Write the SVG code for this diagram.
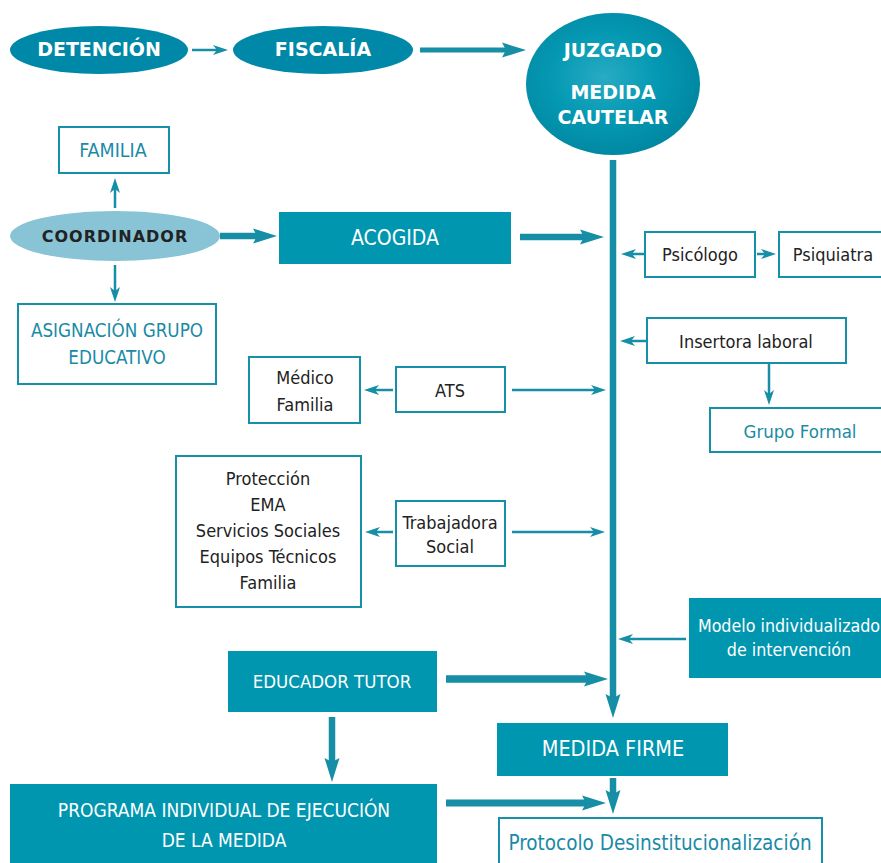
<svg xmlns="http://www.w3.org/2000/svg" width="881" height="863" viewBox="0 0 881 863">
<defs>
<radialGradient id="jg" cx="0.45" cy="0.45" r="0.6">
<stop offset="0" stop-color="#28abc3"/>
<stop offset="0.5" stop-color="#0599b3"/>
<stop offset="1" stop-color="#00859f"/>
</radialGradient>
<marker id="ah" markerUnits="userSpaceOnUse" markerWidth="1" markerHeight="1" refX="4" refY="0" orient="auto" overflow="visible">
<path d="M0,-5 L15,0 L0,5 L4,0 z" fill="#168ea6"/>
</marker>
<marker id="aT" markerUnits="userSpaceOnUse" markerWidth="1" markerHeight="1" refX="4" refY="0" orient="auto" overflow="visible">
<path d="M0,-7.5 L24,0 L0,7.5 L4,0 z" fill="#168ea6"/>
</marker>
</defs>
<style>
.thin{stroke:#168ea6;stroke-width:2.5;fill:none;marker-end:url(#ah)}
.thick{stroke:#168ea6;stroke-width:6.5;fill:none;marker-end:url(#aT)}
.ell{fill:#0088a8}
.box{fill:#fff;stroke:#1590a8;stroke-width:2}
.fbox{fill:#0096b0}
.t{font-family:"DejaVu Sans Condensed","DejaVu Sans",sans-serif;text-anchor:middle;dominant-baseline:central}
.wb{fill:#fff;font-weight:bold;font-size:19px;font-family:"DejaVu Sans",sans-serif}
.w{fill:#fff}
.d{fill:#222;font-size:18px}
.tl{fill:#1a8aa6}
</style>
<g id="connectors">
<line class="thin" x1="192" y1="50" x2="217" y2="50"/>
<line class="thick" x1="420" y1="50" x2="506" y2="50" style="stroke-width:5"/>
<line class="thin" x1="115" y1="208" x2="115" y2="189"/>
<line class="thin" x1="115" y1="265" x2="115" y2="291"/>
<line class="thick" x1="220" y1="236" x2="257" y2="236"/>
<line class="thick" x1="520" y1="237" x2="584" y2="237"/>
<line class="thin" x1="645" y1="254" x2="632" y2="254"/>
<line class="thin" x1="757" y1="254" x2="765" y2="254"/>
<line class="thin" x1="647" y1="341" x2="631" y2="341"/>
<line class="thin" x1="769" y1="363" x2="769" y2="394"/>
<line class="thin" x1="393" y1="390" x2="375" y2="390"/>
<line class="thin" x1="512" y1="390" x2="595" y2="390"/>
<line class="thin" x1="393" y1="532" x2="376" y2="532"/>
<line class="thin" x1="512" y1="532" x2="594" y2="532"/>
<line class="thin" x1="686" y1="639" x2="629" y2="639"/>
<line class="thick" x1="446" y1="679" x2="588" y2="679" style="stroke-width:7.5"/>
<line class="thick" x1="613" y1="160" x2="613" y2="698"/>
<line class="thick" x1="332" y1="717" x2="332" y2="762"/>
<line class="thick" x1="446" y1="803" x2="586" y2="803" style="stroke-width:7"/>
<line class="thick" x1="613" y1="778" x2="613" y2="794"/>
</g>
<g id="detencion">
<ellipse class="ell" cx="99" cy="50" rx="89" ry="24"/>
<text class="t wb" x="99" y="49">DETENCIÓN</text>
</g>
<g id="fiscalia">
<ellipse class="ell" cx="323" cy="50" rx="90" ry="24"/>
<text class="t wb" x="323" y="49">FISCALÍA</text>
</g>
<g id="juzgado">
<ellipse cx="613" cy="84" rx="87" ry="71" fill="url(#jg)"/>
<text class="t wb" x="613" y="50">JUZGADO</text>
<text class="t wb" x="613" y="92">MEDIDA</text>
<text class="t wb" x="613" y="117">CAUTELAR</text>
</g>
<g id="familia">
<rect class="box" x="59" y="127" width="110" height="46"/>
<text class="t tl" x="113" y="150" font-size="19.5">FAMILIA</text>
</g>
<g id="coordinador">
<ellipse cx="115" cy="236" rx="105" ry="25" fill="#88c4d6"/>
<text class="t" x="115" y="236" fill="#222" font-weight="bold" font-size="16" letter-spacing="1" style="font-family:'DejaVu Sans',sans-serif">COORDINADOR</text>
</g>
<g id="asignacion">
<rect class="box" x="18" y="304" width="198" height="80"/>
<text class="t tl" x="117" y="330" font-size="18.7">ASIGNACIÓN GRUPO</text>
<text class="t tl" x="117" y="357" font-size="18.7">EDUCATIVO</text>
</g>
<g id="acogida">
<rect class="fbox" x="279" y="212" width="232" height="52"/>
<text class="t w" x="395" y="238" font-size="21">ACOGIDA</text>
</g>
<g id="psicologo">
<rect class="box" x="645" y="232" width="110" height="45"/>
<text class="t d" x="700" y="254">Psicólogo</text>
</g>
<g id="psiquiatra">
<rect class="box" x="779" y="232" width="104" height="45"/>
<text class="t d" x="833" y="254">Psiquiatra</text>
</g>
<g id="insertora">
<rect class="box" x="647" y="318" width="199" height="45"/>
<text class="t d" x="746" y="341">Insertora laboral</text>
</g>
<g id="grupo-formal">
<rect class="box" x="710" y="408" width="173" height="44"/>
<text class="t tl" x="800" y="431" font-size="18.5">Grupo Formal</text>
</g>
<g id="medico">
<rect class="box" x="249" y="357" width="111" height="66"/>
<text class="t d" x="305" y="377">Médico</text>
<text class="t d" x="305" y="404">Familia</text>
</g>
<g id="ats">
<rect class="box" x="396" y="367" width="109" height="45"/>
<text class="t d" x="450" y="390">ATS</text>
</g>
<g id="proteccion">
<rect class="box" x="176" y="456" width="185" height="151"/>
<text class="t d" x="268" y="478">Protección</text>
<text class="t d" x="268" y="504">EMA</text>
<text class="t d" x="268" y="530">Servicios Sociales</text>
<text class="t d" x="268" y="556">Equipos Técnicos</text>
<text class="t d" x="268" y="582">Familia</text>
</g>
<g id="trabajadora">
<rect class="box" x="396" y="501" width="109" height="65"/>
<text class="t d" x="450" y="522">Trabajadora</text>
<text class="t d" x="450" y="546">Social</text>
</g>
<g id="modelo">
<rect class="fbox" x="689" y="598" width="194" height="80"/>
<text class="t w" x="789" y="626" font-size="17.7">Modelo individualizado</text>
<text class="t w" x="789" y="650" font-size="17.7">de intervención</text>
</g>
<g id="educador">
<rect class="fbox" x="228" y="651" width="209" height="61"/>
<text class="t w" x="332" y="681" font-size="18.5">EDUCADOR TUTOR</text>
</g>
<g id="medida-firme">
<rect class="fbox" x="497" y="723" width="231" height="53"/>
<text class="t w" x="613" y="748" font-size="21.5">MEDIDA FIRME</text>
</g>
<g id="programa">
<rect class="fbox" x="10" y="784" width="427" height="85"/>
<text class="t w" x="224" y="810" font-size="19">PROGRAMA INDIVIDUAL DE EJECUCIÓN</text>
<text class="t w" x="224" y="840" font-size="19">DE LA MEDIDA</text>
</g>
<g id="protocolo">
<rect class="box" x="499" y="818" width="323" height="50"/>
<text class="t tl" x="660" y="843" font-size="20.5">Protocolo Desinstitucionalización</text>
</g>
</svg>
